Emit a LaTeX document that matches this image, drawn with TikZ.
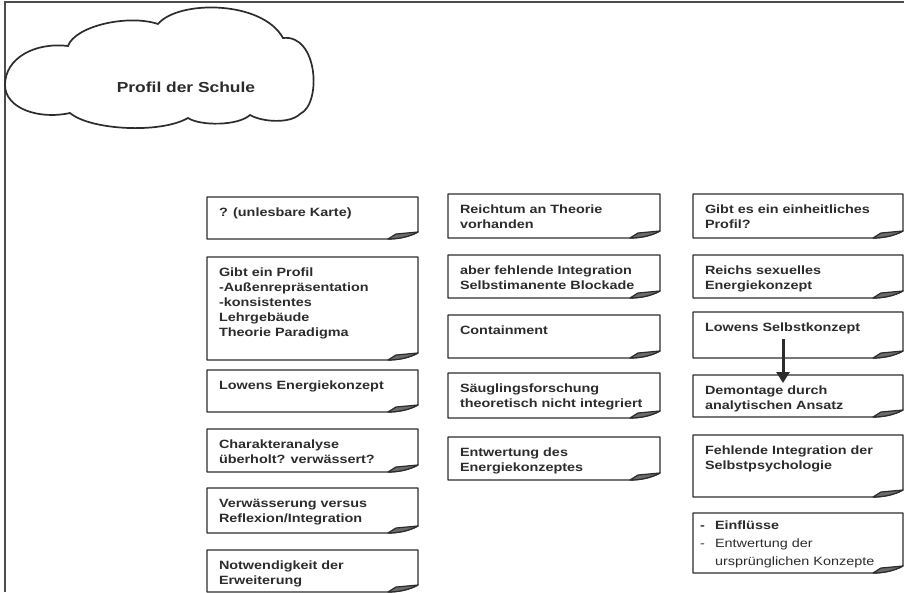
\documentclass[tikz,border=0pt]{standalone}
\usepackage{fontspec}
\setmainfont{Liberation Sans}
\newfontfamily\cardfont[FakeStretch=1.2]{Liberation Sans}
\usetikzlibrary{fit,arrows.meta}
\definecolor{ink}{HTML}{2C2C2C}
\tikzset{
  cardline/.style={draw=ink, line width=1.2pt, line join=round},
  cardtext/.style={text=ink, inner sep=0pt, outer sep=0pt,
    font=\cardfont\bfseries\fontsize{12pt}{15pt}\selectfont},
  frameline/.style={draw=ink!85, line width=1.4pt},
  cloudline/.style={draw=ink, line width=1.7pt},
  bigarrow/.style={draw=ink, line width=3pt, -{Triangle[length=11pt,width=13pt]}},
}
\newcommand\card[6]{%
  \node[fit={(#2,#3) (#4,#5)}, inner sep=0pt, outer sep=0pt] (#1) {};
  \draw[cardline] (#1.north west) -- (#1.north east) -- ([yshift=7pt]#1.south east)
    .. controls ([shift={(-9pt,2pt)}]#1.south east) and ([shift={(-20pt,0pt)}]#1.south east) .. ([xshift=-30pt]#1.south east)
    -- (#1.south west) -- cycle;
  \draw[cardline, fill=ink!70] ([xshift=-30pt]#1.south east) -- ([shift={(-22pt,5pt)}]#1.south east) -- ([yshift=7pt]#1.south east)
    .. controls ([shift={(-9pt,2pt)}]#1.south east) and ([shift={(-20pt,0pt)}]#1.south east) .. cycle;
  \node[cardtext, anchor=base west] (#1-t) at ([shift={(12pt,-19pt)}]#1.north west) {\parbox[t]{200pt}{\raggedright #6}};
}
\begin{document}
\begin{tikzpicture}[x=1pt,y=-1pt]
\useasboundingbox (0,0) rectangle (904,592);
% frame
\draw[frameline] (5,592) -- (5,2) -- (904,2);
% cloud
\draw[cloudline, fill=white] (5,85)
  .. controls (5,58) and (35,42) .. (68,46)
  .. controls (75,26) and (128,14) .. (158,24)
  .. controls (178,0) and (262,0) .. (283,38)
  .. controls (318,34) and (322,104) .. (300,114)
  .. controls (290,124) and (262,122) .. (250,115)
  .. controls (238,126) and (200,126) .. (188,118)
  .. controls (160,134) and (90,130) .. (70,113)
  .. controls (38,120) and (5,108) .. cycle;
\node[text=ink, font=\cardfont\bfseries\fontsize{14.5pt}{17pt}\selectfont] (cloud) at (186,87) {Profil der Schule};
% column 1
\card{a1}{207}{197}{418}{239}{? (unlesbare Karte)}
\card{a2}{207}{257}{418}{360}{Gibt ein Profil\\-Außenrepräsentation\\-konsistentes\\Lehrgebäude\\Theorie Paradigma}
\card{a3}{207}{370}{418}{412}{Lowens Energiekonzept}
\card{a4}{207}{429}{418}{472}{Charakteranalyse\\überholt? verwässert?}
\card{a5}{207}{488}{418}{533}{Verwässerung versus\\Reflexion/Integration}
\card{a6}{207}{550}{418}{592}{Notwendigkeit der\\Erweiterung}
% column 2
\card{b1}{448}{194}{660}{238}{Reichtum an Theorie\\vorhanden}
\card{b2}{448}{255}{660}{298}{aber fehlende Integration\\Selbstimanente Blockade}
\card{b3}{448}{315}{660}{358}{Containment}
\card{b4}{448}{373}{660}{418}{Säuglingsforschung\\theoretisch nicht integriert}
\card{b5}{448}{437}{660}{480}{Entwertung des\\Energiekonzeptes}
% column 3
\card{c1}{693}{194}{903}{238}{Gibt es ein einheitliches\\Profil?}
\card{c2}{693}{255}{903}{298}{Reichs sexuelles\\Energiekonzept}
\card{c3}{693}{312}{903}{358}{Lowens Selbstkonzept}
\card{c4}{693}{375}{903}{417}{Demontage durch\\analytischen Ansatz}
\card{c5}{693}{435}{903}{497}{Fehlende Integration der\\Selbstpsychologie}
\card{c6}{693}{513}{903}{573}{}
\node[cardtext, anchor=base west] (c6-t) at ([shift={(7pt,-16pt)}]c6.north west)
  {\parbox[t]{200pt}{\fontsize{12pt}{18pt}\selectfont\raggedright
   \makebox[15pt][l]{-}Einflüsse\\
   \mdseries\makebox[15pt][l]{-}Entwertung der\\
   \hspace*{15pt}ursprünglichen Konzepte}};
% arrow
\coordinate (arr) at (783,339);
\draw[bigarrow, shorten >=-8pt] (arr) -- (arr |- c4.north);
\end{tikzpicture}
\end{document}
